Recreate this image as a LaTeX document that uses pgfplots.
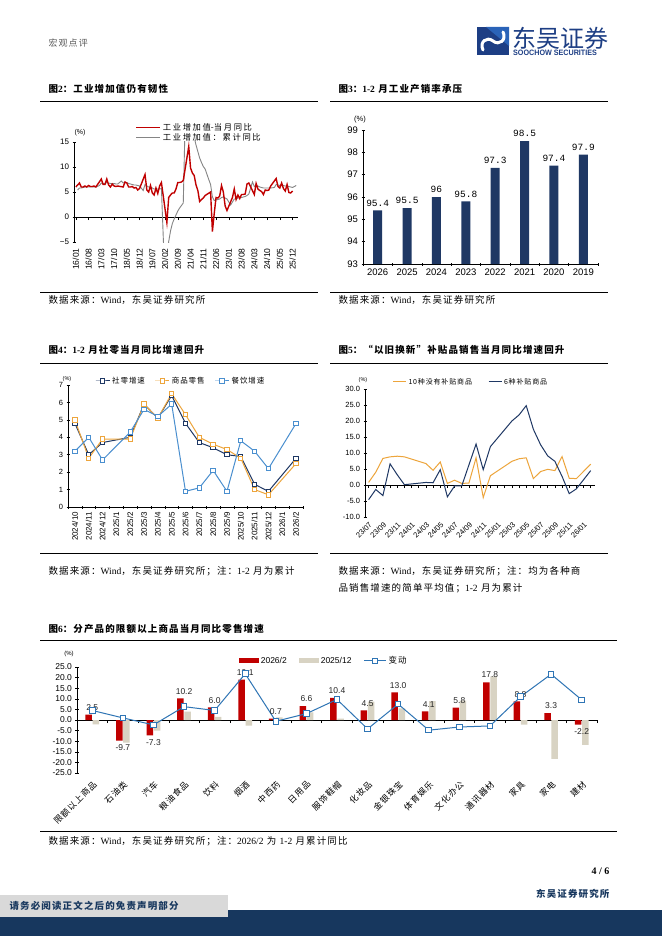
\documentclass[border=0pt]{standalone}
\usepackage{fontspec}
\setmainfont{Liberation Sans}
\newfontfamily\cjk{Noto Sans CJK SC}[LetterSpace=12]
\newfontfamily\cjkw{Noto Sans CJK SC}[LetterSpace=20]
\newfontfamily\cjkplain{Noto Sans CJK SC}
\newfontfamily\serif{Liberation Serif}
\newfontfamily\mono{Liberation Mono}
\usepackage{pgfplots}
\pgfplotsset{compat=1.18}

\definecolor{ivared}{HTML}{C00000}
\definecolor{ivagray}{HTML}{858585}
\definecolor{navy}{HTML}{1F3864}
\definecolor{gold}{HTML}{EDA53C}
\definecolor{skyb}{HTML}{4A8FCF}
\definecolor{beige}{HTML}{D8D3C3}
\definecolor{chgblue}{HTML}{2F75B5}
\definecolor{footnavy}{HTML}{17375E}
\definecolor{footgray}{HTML}{D9D9D9}
\definecolor{logoblue}{HTML}{1D3E84}
\definecolor{logolight}{HTML}{2A63B8}

\newcommand\tn[1]{{\serif\bfseries #1}}
\newcommand\sn[1]{{\serif #1}}

\pgfplotsset{
  pg/.style={scale only axis, anchor=south west,
    tick align=outside, major tick length=3pt, minor tick length=3pt,
    tick style={black, line width=0.5pt},
    minor tick style={black, line width=0.5pt},
    /pgf/number format/assume math mode=true,
    legend cell align=left},
}

\begin{document}
\begin{tikzpicture}
\useasboundingbox (0pt,0pt) rectangle (662pt,-936pt);
\fill[white] (0pt,0pt) rectangle (662pt,-936pt);

% header
\node[anchor=west, text=black!65, font=\cjk\fontsize{9}{10}\selectfont] at (45pt,-43pt) {宏观点评};
\fill[logoblue] (477pt,-27pt) rectangle (509pt,-55pt);
\fill[logolight] (486pt,-27pt) -- (509pt,-27pt) -- (509pt,-46pt) -- cycle;
\draw[white, line width=3pt, line cap=round] (483pt,-50pt) .. controls (479pt,-42pt) and (487pt,-36pt) .. (493pt,-41pt) .. controls (499pt,-46pt) and (507pt,-40pt) .. (503pt,-32pt);
\node[anchor=west, text=logoblue, font=\cjkplain\fontsize{24}{24}\selectfont, inner sep=0pt] at (512pt,-38pt) {东吴证券};
\node[anchor=west, text=logoblue, font=\bfseries\fontsize{7.8}{8}\selectfont, inner sep=0pt, xscale=0.92] at (513pt,-53pt) {SOOCHOW SECURITIES};

% titles and rules
\node[anchor=west, font=\cjk\bfseries\fontsize{9.5}{10}\selectfont] at (45pt,-89pt) {图\tn{2}：工业增加值仍有韧性};
\node[anchor=west, font=\cjk\bfseries\fontsize{9.5}{10}\selectfont] at (335pt,-89pt) {图\tn{3}：\tn{1-2} 月工业产销率承压};
\node[anchor=west, font=\cjk\bfseries\fontsize{9.5}{10}\selectfont] at (45pt,-350pt) {图\tn{4}：\tn{1-2} 月社零当月同比增速回升};
\node[anchor=west, font=\cjk\bfseries\fontsize{9.5}{10}\selectfont] at (335pt,-350pt) {图\tn{5}：“以旧换新”补贴品销售当月同比增速回升};
\node[anchor=west, font=\cjk\bfseries\fontsize{9.5}{10}\selectfont] at (45pt,-629pt) {图\tn{6}：分产品的限额以上商品当月同比零售增速};
\draw[line width=0.8pt] (40pt,-101pt) -- (318pt,-101pt);
\draw[line width=0.8pt] (330pt,-101pt) -- (608pt,-101pt);
\draw[line width=0.8pt] (40pt,-363pt) -- (318pt,-363pt);
\draw[line width=0.8pt] (330pt,-363pt) -- (608pt,-363pt);
\draw[line width=0.8pt] (40pt,-640pt) -- (617pt,-640pt);
\draw[line width=0.8pt] (40pt,-292pt) -- (318pt,-292pt);
\draw[line width=0.8pt] (330pt,-292pt) -- (608pt,-292pt);
\draw[line width=0.8pt] (40pt,-553pt) -- (318pt,-553pt);
\draw[line width=0.8pt] (330pt,-553pt) -- (608pt,-553pt);
\draw[line width=0.8pt] (40pt,-831pt) -- (617pt,-831pt);

% sources
\node[anchor=west, font=\cjk\fontsize{9.5}{10}\selectfont] at (45pt,-300pt) {数据来源：\sn{Wind}，东吴证券研究所};
\node[anchor=west, font=\cjk\fontsize{9.5}{10}\selectfont] at (335pt,-300pt) {数据来源：\sn{Wind}，东吴证券研究所};
\node[anchor=west, font=\cjk\fontsize{9.5}{10}\selectfont] at (45pt,-571pt) {数据来源：\sn{Wind}，东吴证券研究所；注：\sn{1-2} 月为累计};
\node[anchor=west, font=\cjk\fontsize{9.5}{10}\selectfont] at (335pt,-571pt) {数据来源：\sn{Wind}，东吴证券研究所；注：均为各种商};
\node[anchor=west, font=\cjk\fontsize{9.5}{10}\selectfont] at (335pt,-588pt) {品销售增速的简单平均值；\sn{1-2} 月为累计};
\node[anchor=west, font=\cjk\fontsize{9.5}{10}\selectfont] at (45pt,-841pt) {数据来源：\sn{Wind}，东吴证券研究所；注：\sn{2026/2} 为 \sn{1-2} 月累计同比};

% unit labels
\node[font=\fontsize{7}{8}\selectfont] at (80pt,-133pt) {(\%)};
\node[font=\fontsize{7.5}{8}\selectfont] at (360pt,-120pt) {(\%)};
\node[font=\fontsize{5.5}{6}\selectfont] at (67pt,-379pt) {(\%)};
\node[font=\fontsize{5.5}{6}\selectfont] at (363pt,-380pt) {(\%)};
\node[font=\fontsize{6}{7}\selectfont] at (69pt,-654pt) {(\%)};

% footer
\node[anchor=east, font=\serif\bfseries\fontsize{10}{11}\selectfont] at (613pt,-871pt) {4 / 6};
\node[anchor=east, text=footnavy, font=\cjk\bfseries\fontsize{9.5}{10}\selectfont] at (613pt,-894pt) {东吴证券研究所};
\fill[footnavy] (0pt,-910pt) rectangle (662pt,-936pt);
\fill[footgray] (0pt,-895pt) rectangle (228pt,-917pt);
\node[anchor=west, text=footnavy, font=\cjk\bfseries\fontsize{9.5}{10}\selectfont] at (6pt,-906pt) {请务必阅读正文之后的免责声明部分};

% ---------------- Fig 2: industrial value added
\begin{axis}[pg, at={(74pt,-242pt)}, width=224pt, height=100pt,
  xmin=-1, xmax=122, ymin=-5, ymax=15,
  axis y line=left, axis x line=middle, axis line style={-, line width=0.6pt},
  xtick align=outside,
  ytick={-5,0,5,10,15}, yticklabels={−5,0,5,10,15},
  y tick label style={font=\fontsize{8}{9}\selectfont},
  xtick={0,7,...,119},
  xticklabels={16/01,16/08,17/03,17/10,18/05,18/12,19/07,20/02,20/09,21/04,21/11,22/06,23/01,23/08,24/03,24/10,25/05,25/12},
  xticklabel shift=25pt,
  x tick label style={rotate=90, anchor=east, font=\fontsize{8.5}{9}\selectfont},
  reverse legend,
  legend style={draw=none, fill=none, at={(0.26,1.23)}, anchor=north west,
    font=\cjkw\fontsize{8.3}{9}\selectfont, row sep=-2pt},
  legend image code/.code={\draw[#1] (0pt,0pt) -- (24pt,0pt);},
]
\addplot[ivagray, line width=0.9pt] coordinates {
(1,5.4)(2,5.8)(3,5.8)(4,5.9)(5,6.0)(6,6.0)(7,6.0)(8,6.0)(9,6.0)(10,6.0)(11,6.0)
(13,6.3)(14,6.8)(15,6.7)(16,6.7)(17,6.9)(18,6.8)(19,6.7)(20,6.7)(21,6.7)(22,6.6)(23,6.6)
(25,7.2)(26,6.8)(27,6.9)(28,6.9)(29,6.7)(30,6.6)(31,6.5)(32,6.4)(33,6.4)(34,6.3)(35,6.2)
(37,5.3)(38,6.5)(39,6.2)(40,6.0)(41,6.0)(42,5.8)(43,5.6)(44,5.6)(45,5.6)(46,5.6)(47,5.7)
(49,-13.5)(50,-8.4)(51,-4.9)(52,-2.8)(53,-1.3)(54,-0.4)(55,0.4)(56,1.2)(57,1.8)(58,2.3)(59,2.8)
(61,35.1)(62,24.5)(63,20.3)(64,17.8)(65,15.9)(66,14.4)(67,13.1)(68,11.8)(69,10.9)(70,10.1)(71,9.6)
(73,7.5)(74,6.5)(75,4.0)(76,3.3)(77,3.4)(78,3.5)(79,3.6)(80,3.9)(81,4.0)(82,3.8)(83,3.6)
(85,2.4)(86,3.0)(87,3.6)(88,3.6)(89,3.8)(90,3.8)(91,3.9)(92,4.0)(93,4.1)(94,4.3)(95,4.6)
(97,7.0)(98,6.1)(99,6.3)(100,6.2)(101,6.0)(102,5.9)(103,5.8)(104,5.8)(105,5.8)(106,5.8)(107,5.8)
(109,5.9)(110,6.5)(111,6.4)(112,6.3)(113,6.4)(114,6.3)(115,6.2)(116,6.2)(117,6.1)(118,6.0)(119,5.9)
(121,6.3)};
\addlegendentry{工业增加值：累计同比}
\addplot[ivared, line width=1.4pt] coordinates {
(0,6.0)(2,6.8)(3,6.0)(4,6.0)(5,6.2)(6,6.0)(7,6.3)(8,6.1)(9,6.1)(10,6.2)(11,6.0)
(14,7.6)(15,6.5)(16,6.5)(17,7.6)(18,6.4)(19,6.0)(20,6.6)(21,6.2)(22,6.1)(23,6.2)
(26,6.0)(27,7.0)(28,6.8)(29,6.0)(30,6.0)(31,6.1)(32,5.8)(33,5.9)(34,5.4)(35,5.7)
(38,8.5)(39,5.4)(40,5.0)(41,6.3)(42,4.8)(43,4.4)(44,5.8)(45,4.7)(46,6.2)(47,6.9)
(50,-1.1)(51,3.9)(52,4.4)(53,4.8)(54,4.8)(55,5.6)(56,6.9)(57,6.9)(58,7.0)(59,7.3)
(62,14.1)(63,9.8)(64,8.8)(65,8.3)(66,6.4)(67,5.3)(68,3.1)(69,3.5)(70,3.8)(71,4.3)
(74,5.0)(75,-2.9)(76,0.7)(77,3.9)(78,3.8)(79,4.2)(80,6.3)(81,5.0)(82,2.2)(83,1.3)
(86,3.9)(87,5.6)(88,3.5)(89,4.4)(90,3.7)(91,4.5)(92,4.5)(93,4.6)(94,6.6)(95,6.8)
(98,4.5)(99,6.7)(100,5.6)(101,5.3)(102,5.1)(103,4.5)(104,5.4)(105,5.3)(106,5.4)(107,6.2)
(110,7.7)(111,6.1)(112,5.8)(113,6.8)(114,5.7)(115,5.2)(116,6.5)(117,4.9)(118,4.8)(119,5.2)};
\addlegendentry{工业增加值\cjkplain -\cjkw 当月同比}
\end{axis}

% ---------------- Fig 3: sales ratio
\begin{axis}[pg, at={(363pt,-264pt)}, width=235pt, height=134pt,
  xmin=-0.5, xmax=7.5, ymin=93, ymax=99,
  axis y line=left, axis x line=bottom, axis line style={-, line width=0.6pt},
  ytick={93,...,99}, yticklabels={93,94,95,96,97,98,99},
  y tick label style={font=\fontsize{9.5}{10}\selectfont},
  xtick={0,...,7}, xticklabels={2026,2025,2024,2023,2022,2021,2020,2019},
  x tick label style={font=\fontsize{9.5}{10}\selectfont},
  major x tick style={draw=none}, minor xtick={-0.5,0.5,...,7.5},
]
\addplot[ybar, bar width=9pt, fill=navy, draw=none,
  nodes near coords, point meta=explicit symbolic,
  nodes near coords style={font=\mono\fontsize{9.5}{10}\selectfont, inner ysep=4pt}]
  coordinates {(0,95.4)[95.4] (1,95.5)[95.5] (2,96)[96] (3,95.8)[95.8]
               (4,97.3)[97.3] (5,98.5)[98.5] (6,97.4)[97.4] (7,97.9)[97.9]};
\end{axis}

% ---------------- Fig 4: retail sales
\begin{axis}[pg, at={(68pt,-507pt)}, width=235pt, height=122pt,
  xmin=-0.5, xmax=16.5, ymin=0, ymax=7,
  axis y line=left, axis x line=bottom, axis line style={-, line width=0.6pt},
  ytick={0,...,7}, yticklabels={0,1,2,3,4,5,6,7},
  y tick label style={font=\fontsize{7.5}{8}\selectfont},
  xtick={0,...,16},
  xticklabels={2024/10,2024/11,2024/12,2025/1,2025/2,2025/3,2025/4,2025/5,2025/6,2025/7,2025/8,2025/9,2025/10,2025/11,2025/12,2026/1,2026/2},
  x tick label style={rotate=90, anchor=east, font=\fontsize{8}{8}\selectfont},
  major x tick style={draw=none}, minor xtick={-0.5,0.5,...,16.5},
  legend columns=3,
  legend style={draw=none, fill=none, at={(0.48,1.033)}, anchor=center,
    font=\cjk\fontsize{7.5}{8}\selectfont, /tikz/every even column/.append style={column sep=8pt}},
  legend image code/.code={\draw[mark repeat=2, mark phase=2, #1] plot coordinates {(0pt,0pt) (7pt,0pt) (14pt,0pt)};},
]
\addplot[navy, line width=1pt, mark=square*, mark size=2.2pt, mark options={fill=white, solid}] coordinates {
(0,4.8)(1,3.0)(2,3.7)(4,4.0)(5,5.9)(6,5.1)(7,6.4)(8,4.8)(9,3.7)(10,3.4)(11,3.0)(12,2.9)(13,1.3)(14,0.9)(16,2.8)};
\addlegendentry{社零增速}
\addplot[gold, line width=1pt, mark=square*, mark size=2.2pt, mark options={fill=white, solid}] coordinates {
(0,5.0)(1,2.8)(2,3.9)(4,3.9)(5,5.9)(6,5.1)(7,6.5)(8,5.3)(9,4.0)(10,3.6)(11,3.3)(12,2.8)(13,1.0)(14,0.7)(16,2.5)};
\addlegendentry{商品零售}
\addplot[skyb, line width=1pt, mark=square*, mark size=2.2pt, mark options={fill=white, solid}] coordinates {
(0,3.2)(1,4.0)(2,2.7)(4,4.3)(5,5.6)(6,5.2)(7,5.9)(8,0.9)(9,1.1)(10,2.1)(11,0.9)(12,3.8)(13,3.2)(14,2.2)(16,4.8)};
\addlegendentry{餐饮增速}
\end{axis}

% ---------------- Fig 5: trade-in goods
\begin{axis}[pg, at={(365pt,-517pt)}, width=230pt, height=128pt,
  xmin=-0.5, xmax=31.6, ymin=-10, ymax=30,
  axis y line=left, axis x line=middle, axis line style={-, line width=0.6pt},
  xtick align=outside,
  ytick={-10,-5,...,30}, yticklabels={-10.0,-5.0,0.0,5.0,10.0,15.0,20.0,25.0,30.0},
  y tick label style={font=\fontsize{7.5}{8}\selectfont},
  xtick={0,2,...,30},
  xticklabels={23/07,23/09,23/11,24/01,24/03,24/05,24/07,24/09,24/11,25/01,25/03,25/05,25/07,25/09,25/11,26/01},
  minor xtick={1,3,...,31},
  xticklabel shift=32pt,
  x tick label style={rotate=45, anchor=north east, font=\fontsize{7.5}{8}\selectfont, inner sep=1pt},
  legend columns=2,
  legend style={draw=none, fill=none, at={(0.46,1.055)}, anchor=center,
    font=\cjk\fontsize{7}{8}\selectfont, /tikz/every even column/.append style={column sep=14pt}},
  legend image code/.code={\draw[#1] (0pt,0pt) -- (13pt,0pt);},
]
\addplot[gold, line width=1pt] coordinates {
(0,0.8)(1,4.0)(2,8.3)(3,8.8)(4,9.0)(5,8.8)(8,6.7)(9,4.6)(10,7.2)(11,0.5)(12,1.5)(13,0.5)(14,0.6)
(15,8.5)(16,-3.9)(17,2.9)(20,7.4)(21,8.2)(22,8.5)(23,2.0)(24,4.2)(25,4.9)(26,4.5)(27,8.9)(28,2.1)(29,2.0)(31,6.5)};
\addlegendentry{10种没有补贴商品}
\addplot[navy, line width=1pt] coordinates {
(0,-4.6)(1,-1.4)(2,-3.3)(3,6.6)(4,3.2)(5,0.1)(8,0.8)(9,0.7)(10,4.8)(11,-3.7)(12,-0.3)(13,-0.3)
(15,12.8)(16,4.8)(17,12.0)(20,20.0)(21,21.9)(22,24.8)(23,17.4)(24,12.6)(25,9.1)(26,7.4)(27,2.7)(28,-2.7)(29,-1.2)(31,4.5)};
\addlegendentry{6种补贴商品}
\end{axis}

% ---------------- Fig 6: retail by product
\begin{axis}[pg, at={(77pt,-773pt)}, width=520pt, height=106pt,
  xmin=-0.5, xmax=16.5, ymin=-25, ymax=25,
  axis y line=left, axis x line=middle, axis line style={-, line width=0.6pt},
  xtick align=outside,
  ytick={-25,-20,...,25},
  yticklabels={-25.0,-20.0,-15.0,-10.0,-5.0,0.0,5.0,10.0,15.0,20.0,25.0},
  y tick label style={font=\fontsize{8.5}{9}\selectfont},
  xtick={0,...,16},
  xticklabels={限额以上商品,石油类,汽车,粮油食品,饮料,烟酒,中西药,日用品,服饰鞋帽,化妆品,金银珠宝,体育娱乐,文化办公,通讯器材,家具,家电,建材},
  major x tick style={draw=none}, minor xtick={-0.5,0.5,...,16.5},
  xticklabel shift=52pt,
  x tick label style={rotate=45, anchor=north east, font=\cjk\fontsize{8.5}{9}\selectfont},
  legend columns=3,
  legend style={draw=none, fill=none, at={(0.305,1.057)}, anchor=west,
    font=\fontsize{8.5}{9}\selectfont, /tikz/every even column/.append style={column sep=10pt}},
  legend image code/.code={\draw[mark repeat=2, mark phase=2, #1] plot coordinates {(0pt,0pt) (11pt,0pt) (22pt,0pt)};},
]
\addplot[ybar, bar width=6.5pt, bar shift=-3.6pt, fill=ivared, draw=none,
  nodes near coords, point meta=explicit symbolic,
  nodes near coords style={font=\fontsize{8.5}{9}\selectfont, text=black!85, anchor=south, inner ysep=4pt},
  legend image code/.code={\fill[ivared] (0pt,-2.5pt) rectangle (20pt,2.5pt);}]
  coordinates {(0,2.5)[2.5] (3,10.2)[10.2] (4,6.0)[6.0]
    (5,19.1)[19.1] (6,0.7)[0.7] (7,6.6)[6.6] (8,10.4)[10.4] (9,4.5)[4.5] (10,13.0)[13.0]
    (11,4.1)[4.1] (12,5.8)[5.8] (13,17.8)[17.8] (14,8.8)[8.8] (15,3.3)[3.3]};
\addlegendentry{2026/2}
\addplot[ybar, bar width=6.5pt, bar shift=-3.6pt, fill=ivared, draw=none, forget plot,
  nodes near coords, point meta=explicit symbolic,
  nodes near coords style={font=\fontsize{8.5}{9}\selectfont, text=black!85, anchor=north, inner ysep=4pt}]
  coordinates {(1,-9.7)[-9.7] (2,-7.3)[-7.3] (16,-2.2)[-2.2]};
\addplot[ybar, bar width=6.5pt, bar shift=3.6pt, fill=beige, draw=none,
  legend image code/.code={\fill[beige] (0pt,-2.5pt) rectangle (20pt,2.5pt);}]
  coordinates {(0,-2.0) (1,-10.7) (2,-5.0) (3,3.9) (4,1.5) (5,-2.7) (6,1.3) (7,3.6) (8,0.7)
    (9,8.7) (10,5.5) (11,8.9) (12,9.1) (13,20.6) (14,-2.2) (15,-18.3) (16,-11.7)};
\addlegendentry{2025/12}
\addplot[chgblue, line width=1pt, mark=square*, mark size=2.8pt, mark options={fill=white, solid}]
  coordinates {(0,4.5) (1,1.0) (2,-2.3) (3,6.3) (4,4.5) (5,21.8) (6,-0.6) (7,3.0) (8,9.7)
    (9,-4.2) (10,7.5) (11,-4.8) (12,-3.3) (13,-2.8) (14,11.0) (15,21.6) (16,9.5)};
\addlegendentry{{\cjk 变动}}
\end{axis}
\end{tikzpicture}
\end{document}
